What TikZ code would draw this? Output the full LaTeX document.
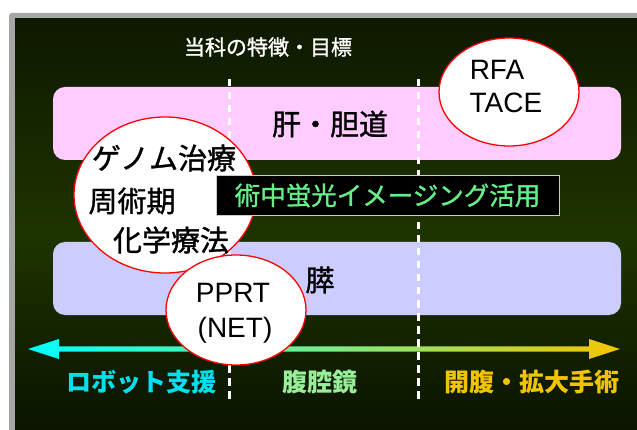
\documentclass[tikz,border=0pt]{standalone}
\usepackage{fontspec}
\setmainfont{Liberation Sans}
\newfontfamily\jp{Noto Sans CJK JP}
\newfontfamily\jpm[FakeBold=1.2]{Noto Sans CJK JP}
\usetikzlibrary{shapes.geometric,calc}
\definecolor{pinkbox}{HTML}{FFCCFF}
\definecolor{bluebox}{HTML}{CCCCFF}
\definecolor{bgtop}{HTML}{0E1800}
\definecolor{bgmid}{HTML}{1E3400}
\definecolor{bgbot}{HTML}{081000}
\definecolor{framegray}{HTML}{A6A6A6}
\definecolor{cyanlab}{HTML}{00E0F0}
\definecolor{greenlab}{HTML}{99EE99}
\definecolor{yellowlab}{HTML}{F0C400}
\definecolor{boxtext}{HTML}{66EE88}
\definecolor{arrcyan}{HTML}{00FFFF}
\definecolor{arrgreen}{HTML}{77EE88}
\definecolor{arryellow}{HTML}{F5C400}
\tikzset{
  organbox/.style={rounded corners=12pt, draw=none},
  bubble/.style={ellipse, draw=red, line width=1.3pt, fill=white, inner sep=0pt},
  divider/.style={white, line width=3pt, dash pattern=on 7.5pt off 5.5pt},
  jptext/.style={font=\jpm\fontsize{29}{32}\selectfont, text=black, inner sep=0pt},
  lattext/.style={font=\fontsize{28}{32}\selectfont, text=black, inner sep=0pt},
  botlab/.style={font=\jp\bfseries\fontsize{25}{28}\selectfont, inner sep=0pt},
}
\begin{document}
\begin{tikzpicture}[x=1pt,y=-1pt]
\useasboundingbox (0,0) rectangle (637,430);
\clip (0,0) rectangle (637,430);
\fill[white] (0,0) rectangle (637,430);
% frame
\fill[framegray, rounded corners=3pt] (9,13) rectangle (660,450);
\shade[top color=bgtop, bottom color=bgbot, middle color=bgmid] (15,19) rectangle (660,450);
% title
\node[font=\jpm\fontsize{21}{24}\selectfont, text=white, inner sep=0pt] (title) at (268,47) {当科の特徴・目標};
% organ boxes
\fill[pinkbox, organbox] (53,87) rectangle (621,160);
\fill[bluebox, organbox] (53,242) rectangle (621,315);
\node[jptext] (liver) at (330,124) {肝・胆道};
\node[jptext] (panc) at (320,280) {膵};
% arrow
\coordinate (arrL) at (28,349);
\coordinate (arrR) at (620,349);
\shade[left color=arrcyan, right color=arryellow, middle color=arrgreen]
  (arrL) -- ($(arrL)+(31,-10)$) -- ($(arrL)+(31,-2.7)$) -- ($(arrR)+(-31,-2.7)$)
  -- ($(arrR)+(-31,-10)$) -- (arrR) -- ($(arrR)+(-31,10)$) -- ($(arrR)+(-31,2.7)$)
  -- ($(arrL)+(31,2.7)$) -- ($(arrL)+(31,10)$) -- cycle;
% dividers
\coordinate (d1t) at (229,79);
\coordinate (d1b) at (229,400);
\coordinate (d2t) at (418,79);
\coordinate (d2b) at (418,400);
\draw[divider] (d1t) -- (d1b);
\draw[divider] (d2t) -- (d2b);
% bottom labels
\node[botlab, text=cyanlab] (robot) at (141,382) {ロボット支援};
\node[botlab, text=greenlab] (lap) at (320,382) {腹腔鏡};
\node[botlab, text=yellowlab] (open) at (532,382) {開腹・拡大手術};
% left bubble
\node[bubble, minimum width=182pt, minimum height=156pt] (genome) at (165,195) {};
\node[jptext] (g1) at (164,158) {ゲノム治療};
\node[jptext] (g2) at (132,201) {周術期};
\node[jptext] (g3) at (171,240) {化学療法};
% fluorescence box
\node[fill=black, draw=gray!40, line width=1pt, minimum width=343pt, minimum height=40pt, inner sep=0pt,
      font=\jpm\fontsize{25.5}{28}\selectfont, text=boxtext] (fluor) at (387.5,195.5) {術中蛍光イメージング活用};
% RFA bubble
\node[bubble, minimum width=140pt, minimum height=108pt] (rfa) at (509,92) {};
\node[lattext] (rfa1) at (497,70) {RFA};
\node[lattext] (rfa2) at (506,103) {TACE};
% PPRT bubble
\node[bubble, minimum width=140pt, minimum height=110pt] (pprt) at (236,310) {};
\node[lattext] (p1) at (233,293) {PPRT};
\node[lattext] (p2) at (235,330) {(NET)};
\end{tikzpicture}
\end{document}
